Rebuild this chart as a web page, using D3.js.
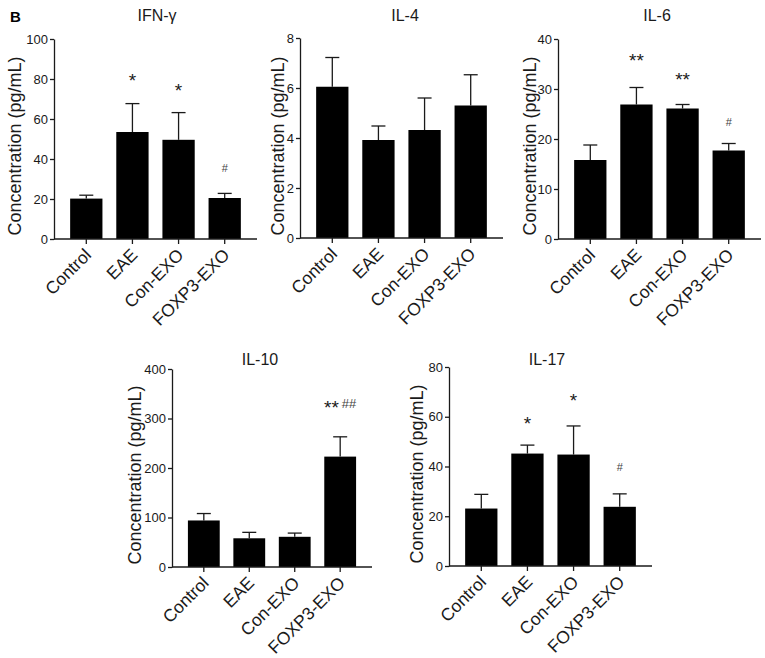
<!DOCTYPE html>
<html lang="en">
<head>
<meta charset="UTF-8"/>
<title>cytokines</title>
<script src="https://d3js.org/d3.v7.min.js"></script>
<style>
    body { margin: 0; background: #fff; }
    svg { font-family: "Liberation Sans", Arial, sans-serif; }
    .axis path, .axis line { fill: none; stroke: #1a1a1a; stroke-width: 1.3; }
    .axis text { font-size: 13px; fill: #1a1a1a; }
    .x-axis text { font-size: 17.5px; }
    .bar { fill: #000; }
    .err { stroke: #1a1a1a; stroke-width: 1.3; fill: none; }
    .title { font-size: 16px; text-anchor: middle; fill: #1a1a1a; }
    .ylab { font-size: 18px; text-anchor: middle; fill: #1a1a1a; }
</style>
</head>
<body>
<script>
// groups
const categories = ["Control", "EAE", "Con-EXO", "FOXP3-EXO"];

// means and SEM (upper error only)
const ifnMean = [20.2, 53.5, 49.6, 20.5];
const ifnSem  = [1.7, 14.2, 13.6, 2.3];
const il4Mean = [6.05, 3.92, 4.32, 5.3];
const il4Sem  = [1.17, 0.56, 1.28, 1.23];
const il6Mean = [15.8, 26.9, 26.1, 17.7];
const il6Sem  = [3.0, 3.4, 0.8, 1.4];
const il10Mean = [94, 58, 61, 223];
const il10Sem  = [14, 12, 7.5, 40];
const il17Mean = [23.1, 45.2, 44.8, 23.8];
const il17Sem  = [5.7, 3.4, 11.5, 5.2];

// significance marks and the value they sit at
const ifnStars = ["", "*", "*", ""];     const ifnHash = ["", "", "", "#"];
const ifnMarkY = [null, 81, 76, 35.5];
const il6Stars = ["", "**", "**", ""];   const il6Hash = ["", "", "", "#"];
const il6MarkY = [null, 36.4, 32.6, 23.4];
const il10Stars = ["", "", "", "**"];    const il10Hash = ["", "", "", "##"];
const il10MarkY = [null, null, null, 330];
const il17Stars = ["", "*", "*", ""];    const il17Hash = ["", "", "", "#"];
const il17MarkY = [null, 58.6, 68, 39.9];

// y ticks
const ifnTicks = [0, 20, 40, 60, 80, 100];
const il4Ticks = [0, 2, 4, 6, 8];
const il6Ticks = [0, 10, 20, 30, 40];
const il10Ticks = [0, 100, 200, 300, 400];
const il17Ticks = [0, 20, 40, 60, 80];

const yLabel = "Concentration (pg/mL)";

let width = 765, height = 658;
let svg = d3.select("body").append("svg")
    .attr("width", width)
    .attr("height", height);

svg.append("text")
    .attr("x", 10).attr("y", 22)
    .style("font-size", "15px").style("font-weight", "bold")
    .text("B");

// panel layout: axis origin, axis end, top of plot, bottom of plot, title & label positions
let panels = [
    {title: "IFN-γ", mean: ifnMean, sem: ifnSem, ticks: ifnTicks, stars: ifnStars, hash: ifnHash, markY: ifnMarkY,
     x0: 54, x1: 257, yTop: 39, yBot: 239, tx: 157, ty: 21, lx: 15, ly: 146},
    {title: "IL-4", mean: il4Mean, sem: il4Sem, ticks: il4Ticks, stars: [], hash: [], markY: [],
     x0: 300, x1: 503, yTop: 38, yBot: 238, tx: 405, ty: 21, lx: 278, ly: 146},
    {title: "IL-6", mean: il6Mean, sem: il6Sem, ticks: il6Ticks, stars: il6Stars, hash: il6Hash, markY: il6MarkY,
     x0: 558, x1: 761, yTop: 39, yBot: 239, tx: 657, ty: 21, lx: 530, ly: 146},
    {title: "IL-10", mean: il10Mean, sem: il10Sem, ticks: il10Ticks, stars: il10Stars, hash: il10Hash, markY: il10MarkY,
     x0: 172, x1: 372, yTop: 369, yBot: 567, tx: 260, ty: 365, lx: 135, ly: 475},
    {title: "IL-17", mean: il17Mean, sem: il17Sem, ticks: il17Ticks, stars: il17Stars, hash: il17Hash, markY: il17MarkY,
     x0: 449, x1: 652, yTop: 367, yBot: 566, tx: 547, ty: 365, lx: 417, ly: 474}
];

panels.forEach(function(p) {
    let g = svg.append("g");
    let ymax = p.ticks[p.ticks.length - 1];

    let x = d3.scaleBand()
        .domain(categories)
        .range([p.x0, p.x1])
        .paddingInner(0.3)
        .paddingOuter(0.35);
    let y = d3.scaleLinear()
        .domain([0, ymax])
        .range([p.yBot, p.yTop]);

    let rows = categories.map((c, i) => ({cat: c, mean: p.mean[i], sem: p.sem[i],
        stars: p.stars[i] || "", hash: p.hash[i] || "", my: p.markY[i]}));

    // error bars (drawn first so the bar covers the lower half)
    g.selectAll(".err-v").data(rows).enter().append("line")
        .attr("class", "err")
        .attr("x1", d => x(d.cat) + x.bandwidth() / 2)
        .attr("x2", d => x(d.cat) + x.bandwidth() / 2)
        .attr("y1", d => y(d.mean))
        .attr("y2", d => y(d.mean + d.sem));
    g.selectAll(".err-cap").data(rows).enter().append("line")
        .attr("class", "err")
        .attr("x1", d => x(d.cat) + x.bandwidth() / 2 - 7)
        .attr("x2", d => x(d.cat) + x.bandwidth() / 2 + 7)
        .attr("y1", d => y(d.mean + d.sem))
        .attr("y2", d => y(d.mean + d.sem));

    g.selectAll(".bar").data(rows).enter().append("rect")
        .attr("class", "bar")
        .attr("x", d => x(d.cat))
        .attr("width", x.bandwidth())
        .attr("y", d => y(d.mean))
        .attr("height", d => y(0) - y(d.mean));

    // axes
    g.append("g")
        .attr("class", "axis y-axis")
        .attr("transform", "translate(" + p.x0 + ",0)")
        .call(d3.axisLeft(y).tickValues(p.ticks).tickSize(4).tickSizeOuter(0).tickPadding(2));

    let xa = g.append("g")
        .attr("class", "axis x-axis")
        .attr("transform", "translate(0," + p.yBot + ")")
        .call(d3.axisBottom(x).tickSize(5).tickSizeOuter(0));
    xa.select("path.domain").attr("d", "M" + p.x0 + ",0H" + p.x1);
    xa.selectAll("text")
        .attr("text-anchor", "end")
        .attr("y", 0).attr("dy", 0)
        .attr("transform", "translate(6,17) rotate(-45)");

    // significance marks
    let marked = rows.filter(d => d.my != null);
    let mk = g.selectAll(".mark").data(marked).enter().append("text")
        .attr("x", d => x(d.cat) + x.bandwidth() / 2)
        .attr("y", d => y(d.my))
        .attr("text-anchor", "middle")
        .style("fill", "#1a1a1a");
    mk.append("tspan")
        .style("font-size", "19px")
        .attr("dy", d => d.stars ? 10 : 0)
        .text(d => d.stars);
    mk.append("tspan")
        .style("font-size", d => d.hash.length > 1 ? "13px" : "11px")
        .style("fill", "#444")
        .attr("dx", d => d.stars ? 3 : 0)
        .attr("dy", d => d.stars ? -6 : 4)
        .text(d => d.hash);

    g.append("text").attr("class", "title")
        .attr("x", p.tx).attr("y", p.ty)
        .text(p.title);

    g.append("text").attr("class", "ylab")
        .attr("transform", "translate(" + p.lx + "," + p.ly + ") rotate(-90)")
        .attr("dy", "0.35em")
        .text(yLabel);
});
</script>
</body>
</html>
